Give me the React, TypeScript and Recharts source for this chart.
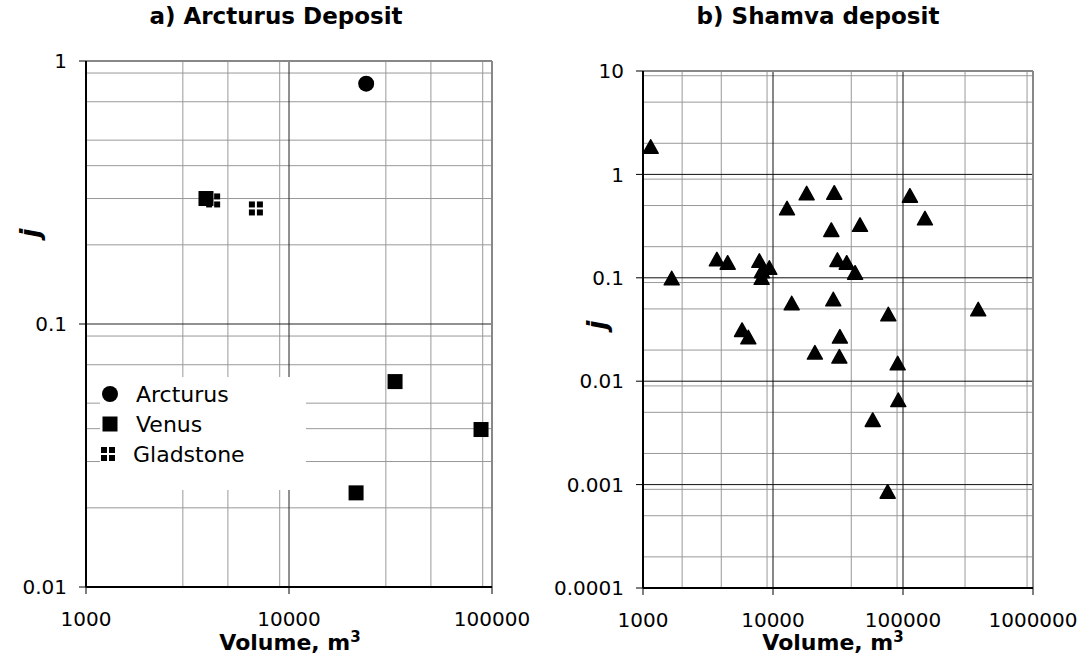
import React from "react";
import {
  ScatterChart,
  Scatter,
  XAxis,
  YAxis,
  CartesianGrid,
  ReferenceLine,
  Legend,
} from "recharts";

const FONT = '"DejaVu Sans", Verdana, sans-serif';

// a) Arcturus deposit
const arcturusVolume = [24000];
const arcturusJ = [0.82];
const venusVolume = [3900, 33300, 88300, 21400];
const venusJ = [0.3, 0.0604, 0.0397, 0.0228];
const gladstoneVolume = [4230, 6870];
const gladstoneJ = [0.295, 0.275];
const arcturusSeries = ["Arcturus", "Venus", "Gladstone"];

// b) Shamva deposit
const shamvaVolume = [
  1146, 1663, 3700, 4480, 7850, 9370, 8220, 8180, 12820, 18150, 29600, 28100,
  46700, 113000, 147500, 31300, 36900, 42800, 13930, 29100, 77100, 379000,
  5780, 6460, 32700, 21000, 32400, 91000, 92000, 58500, 76200,
];
const shamvaJ = [
  1.85, 0.099, 0.151, 0.14, 0.146, 0.125, 0.116, 0.1, 0.47, 0.656, 0.665,
  0.29, 0.325, 0.622, 0.376, 0.149, 0.14, 0.112, 0.0567, 0.062, 0.0444,
  0.0496, 0.0313, 0.0266, 0.027, 0.0189, 0.0173, 0.0149, 0.00658, 0.00422,
  0.000854,
];

const leftXTicks = [1000, 10000, 100000];
const leftYTicks = [0.01, 0.1, 1];
const rightXTicks = [1000, 10000, 100000, 1000000];
const rightYTicks = [0.0001, 0.001, 0.01, 0.1, 1, 10];

const toPoints = (xs: number[], ys: number[]) =>
  xs.map((x, i) => ({ x, y: ys[i] }));

// minor log gridlines: 2..9 times each decade below the top one
const minorOf = (decades: number[]) =>
  decades
    .slice(0, -1)
    .flatMap((d) => [2, 3, 4, 5, 6, 7, 8, 9].map((m) => m * d));

const Circle = (p: any) => <circle cx={p.cx} cy={p.cy} r={8} fill="#000" />;
const Square = (p: any) => (
  <rect x={p.cx - 7.5} y={p.cy - 7.5} width={15} height={15} fill="#000" />
);
const Quad = (p: any) => (
  <g fill="#000">
    <rect x={p.cx - 7} y={p.cy - 7} width={6} height={6} />
    <rect x={p.cx + 1} y={p.cy - 7} width={6} height={6} />
    <rect x={p.cx - 7} y={p.cy + 1} width={6} height={6} />
    <rect x={p.cx + 1} y={p.cy + 1} width={6} height={6} />
  </g>
);
const Triangle = (p: any) => (
  <polygon
    points={`${p.cx},${p.cy - 7} ${p.cx - 7.5},${p.cy + 6.5} ${p.cx + 7.5},${p.cy + 6.5}`}
    fill="#000"
    stroke="#000"
    strokeWidth={1.5}
    strokeLinejoin="round"
  />
);

const legendIcons: Record<string, React.ReactNode> = {
  Arcturus: (
    <svg width={20} height={20}>
      <Circle cx={10} cy={10} />
    </svg>
  ),
  Venus: (
    <svg width={20} height={20}>
      <Square cx={10} cy={10} />
    </svg>
  ),
  Gladstone: (
    <svg width={20} height={20}>
      <Quad cx={8} cy={10} />
    </svg>
  ),
};

const ArcturusLegend = (props: any) => {
  const items = [...(props.payload || [])].sort(
    (a: any, b: any) =>
      arcturusSeries.indexOf(a.value) - arcturusSeries.indexOf(b.value)
  );
  return (
    <div
      style={{
        background: "#fff",
        width: 206,
        height: 113,
        paddingTop: 2,
        boxSizing: "border-box",
        fontFamily: FONT,
        fontSize: 22,
        color: "#000",
      }}
    >
      {items.map((e: any) => (
        <div
          key={e.value}
          style={{ display: "flex", alignItems: "center", height: 30 }}
        >
          <span style={{ width: 36, display: "flex" }}>
            {legendIcons[e.value]}
          </span>
          <span style={{ marginLeft: e.value === "Gladstone" ? -3 : 0 }}>
            {e.value}
          </span>
        </div>
      ))}
    </div>
  );
};

const tickStyle = { fill: "#000", fontSize: 20, fontFamily: FONT };

const title = (text: string, cx: number) => (
  <div
    style={{
      position: "absolute",
      left: cx - 250,
      top: 3,
      width: 500,
      textAlign: "center",
      fontFamily: FONT,
      fontWeight: "bold",
      fontSize: 23,
      whiteSpace: "nowrap",
    }}
  >
    {text}
  </div>
);

const volumeLabel = (cx: number) => (
  <div
    style={{
      position: "absolute",
      left: cx - 150,
      top: 633,
      width: 300,
      lineHeight: "20px",
      textAlign: "center",
      fontFamily: FONT,
      fontWeight: "bold",
      fontSize: 22,
      whiteSpace: "nowrap",
    }}
  >
    Volume, m
    <sup style={{ fontSize: 15, lineHeight: 0, verticalAlign: "super" }}>
      3
    </sup>
  </div>
);

const jLabel = (cx: number, cy: number) => (
  <div
    style={{
      position: "absolute",
      left: cx - 20,
      top: cy - 16,
      width: 40,
      height: 32,
      lineHeight: "32px",
      textAlign: "center",
      fontFamily: FONT,
      fontWeight: "bold",
      fontStyle: "italic",
      fontSize: 26,
      transform: "rotate(-90deg)",
    }}
  >
    j
  </div>
);

const axisCommon = {
  tick: tickStyle,
  tickSize: 7,
  axisLine: { stroke: "#000", strokeWidth: 2 },
  tickLine: { stroke: "#000" },
  allowDataOverflow: true,
};

export default function App() {
  return (
    <div
      style={{
        position: "absolute",
        left: 0,
        top: 0,
        width: 1086,
        height: 657,
        background: "#fff",
        overflow: "hidden",
      }}
    >
      {title("a) Arcturus Deposit", 276)}
      {title("b) Shamva deposit", 818)}
      {volumeLabel(290)}
      {volumeLabel(833)}
      {jLabel(30, 233)}
      {jLabel(597, 325)}

      <div style={{ position: "absolute", left: 0, top: 0 }}>
        <ScatterChart
          width={560}
          height={657}
          margin={{ top: 61, right: 68, bottom: 0, left: 0 }}
        >
          <CartesianGrid
            stroke="#999"
            horizontalValues={minorOf(leftYTicks)}
            verticalValues={minorOf(leftXTicks)}
          />
          <CartesianGrid
            stroke="#222"
            horizontalValues={leftYTicks}
            verticalValues={leftXTicks}
          />
          <ReferenceLine y={1} stroke="#888" strokeWidth={2} />
          <ReferenceLine x={100000} stroke="#888" strokeWidth={2} />
          <XAxis
            {...axisCommon}
            type="number"
            dataKey="x"
            scale="log"
            domain={[1000, 100000]}
            ticks={leftXTicks}
            height={70}
            tickMargin={18}
          />
          <YAxis
            {...axisCommon}
            type="number"
            dataKey="y"
            scale="log"
            domain={[0.01, 1]}
            ticks={leftYTicks}
            width={86}
            tickMargin={12}
          />
          <Legend
            layout="vertical"
            align="center"
            verticalAlign="middle"
            content={<ArcturusLegend />}
            wrapperStyle={{ left: 100, top: 377, width: 206, height: 113 }}
          />
          <Scatter
            name="Arcturus"
            data={toPoints(arcturusVolume, arcturusJ)}
            fill="#000"
            shape={Circle}
            isAnimationActive={false}
          />
          <Scatter
            name="Venus"
            data={toPoints(venusVolume, venusJ)}
            fill="#000"
            shape={Square}
            isAnimationActive={false}
          />
          <Scatter
            name="Gladstone"
            data={toPoints(gladstoneVolume, gladstoneJ)}
            fill="#000"
            shape={Quad}
            isAnimationActive={false}
          />
        </ScatterChart>
      </div>

      <div style={{ position: "absolute", left: 520, top: 0 }}>
        <ScatterChart
          width={566}
          height={657}
          margin={{ top: 71, right: 53, bottom: 0, left: 0 }}
        >
          <CartesianGrid
            stroke="#999"
            horizontalValues={minorOf(rightYTicks)}
            verticalValues={minorOf(rightXTicks)}
          />
          <CartesianGrid
            stroke="#111"
            horizontalValues={rightYTicks}
            verticalValues={rightXTicks}
          />
          <ReferenceLine y={10} stroke="#888" strokeWidth={2} />
          <ReferenceLine x={1000000} stroke="#888" strokeWidth={2} />
          <XAxis
            {...axisCommon}
            type="number"
            dataKey="x"
            scale="log"
            domain={[1000, 1000000]}
            ticks={rightXTicks}
            height={69}
            tickMargin={18}
          />
          <YAxis
            {...axisCommon}
            type="number"
            dataKey="y"
            scale="log"
            domain={[0.0001, 10]}
            ticks={rightYTicks}
            width={123}
            tickMargin={12}
          />
          <Scatter
            name="Shamva"
            data={toPoints(shamvaVolume, shamvaJ)}
            fill="#000"
            shape={Triangle}
            isAnimationActive={false}
          />
        </ScatterChart>
      </div>
    </div>
  );
}
